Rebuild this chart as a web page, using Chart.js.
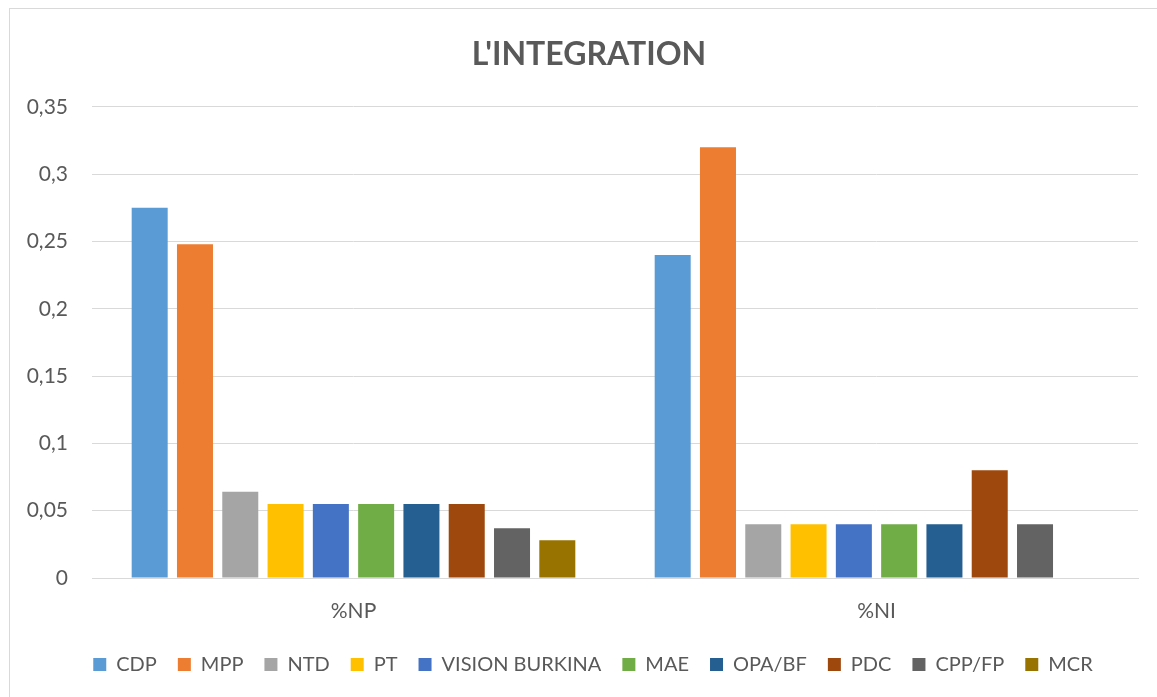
<!DOCTYPE html>
<html>
<head>
<meta charset="utf-8">
<script src="https://cdn.jsdelivr.net/npm/chart.js@4/dist/chart.umd.min.js"></script>
<style>
  html, body { margin: 0; padding: 0; background: #ffffff; }
  #wrap { width: 1157px; height: 697px; position: relative; }
</style>
</head>
<body>
<div id="wrap"><canvas id="c"></canvas></div>
<script>
const categories = ['%NP', '%NI'];
const seriesNames = ['CDP', 'MPP', 'NTD', 'PT', 'VISION BURKINA', 'MAE', 'OPA/BF', 'PDC', 'CPP/FP', 'MCR'];
const cdp = [0.275, 0.24];
const mpp = [0.248, 0.32];
const ntd = [0.064, 0.04];
const pt = [0.055, 0.04];
const visionBurkina = [0.055, 0.04];
const mae = [0.055, 0.04];
const opaBf = [0.055, 0.04];
const pdc = [0.055, 0.08];
const cppFp = [0.037, 0.04];
const mcr = [0.028, 0];
const yTickLabels = ['0', '0,05', '0,1', '0,15', '0,2', '0,25', '0,3', '0,35'];
const chartTitle = "L'INTEGRATION";

const seriesValues = [cdp, mpp, ntd, pt, visionBurkina, mae, opaBf, pdc, cppFp, mcr];
const colors = ['#5B9BD5', '#ED7D31', '#A5A5A5', '#FFC000', '#4472C4', '#70AD47', '#255E91', '#9E480E', '#636363', '#997300'];

const frame = {
  id: 'frame',
  afterLayout(chart) {
    if (chart.legend) { chart.legend.left += 14; chart.legend.right += 14; }
    if (chart.titleBlock) { chart.titleBlock.left += 10; chart.titleBlock.right += 10; }
  },
  beforeDraw(chart) {
    const ctx = chart.ctx;
    ctx.save();
    ctx.fillStyle = '#ffffff';
    ctx.fillRect(0, 0, chart.width, chart.height);
    ctx.strokeStyle = '#D9D9D9';
    ctx.lineWidth = 1;
    ctx.strokeRect(9.5, 8.5, 1300, 800);
    ctx.restore();
  }
};

const textColor = '#595959';
const fontFamily = 'Lato, "Open Sans", sans-serif';

new Chart(document.getElementById('c'), {
  type: 'bar',
  data: {
    labels: categories,
    datasets: seriesNames.map((name, i) => ({
      label: name,
      data: seriesValues[i],
      backgroundColor: colors[i],
      borderWidth: 0,
      categoryPercentage: 0.866,
      barPercentage: 0.795
    }))
  },
  options: {
    responsive: true,
    maintainAspectRatio: false,
    animation: false,
    layout: { padding: { left: 20, right: 19, top: 0, bottom: 12.5 } },
    plugins: {
      title: {
        display: true,
        text: chartTitle,
        color: textColor,
        font: { family: fontFamily, size: 32, weight: 'bold' },
        padding: { top: 35.5, bottom: 33 }
      },
      legend: {
        display: true,
        position: 'bottom',
        labels: {
          color: textColor,
          font: { family: fontFamily, size: 20 },
          boxWidth: 13,
          boxHeight: 13,
          padding: 21
        }
      },
      tooltip: { enabled: false }
    },
    scales: {
      x: {
        grid: { display: false },
        border: { display: true, color: '#D9D9D9', width: 1 },
        ticks: { color: textColor, font: { family: fontFamily, size: 21 }, padding: 13 },
        afterFit(scale) { scale.height = 55.5; }
      },
      y: {
        min: 0,
        max: 0.35,
        grid: { color: '#D9D9D9', drawTicks: false, lineWidth: 1 },
        border: { display: false },
        ticks: {
          stepSize: 0.05,
          color: textColor,
          font: { family: fontFamily, size: 21 },
          padding: 24,
          callback: (v, i) => yTickLabels[i]
        },
        afterFit(scale) { scale.width = 72; }
      }
    }
  },
  plugins: [frame]
});
</script>
</body>
</html>
